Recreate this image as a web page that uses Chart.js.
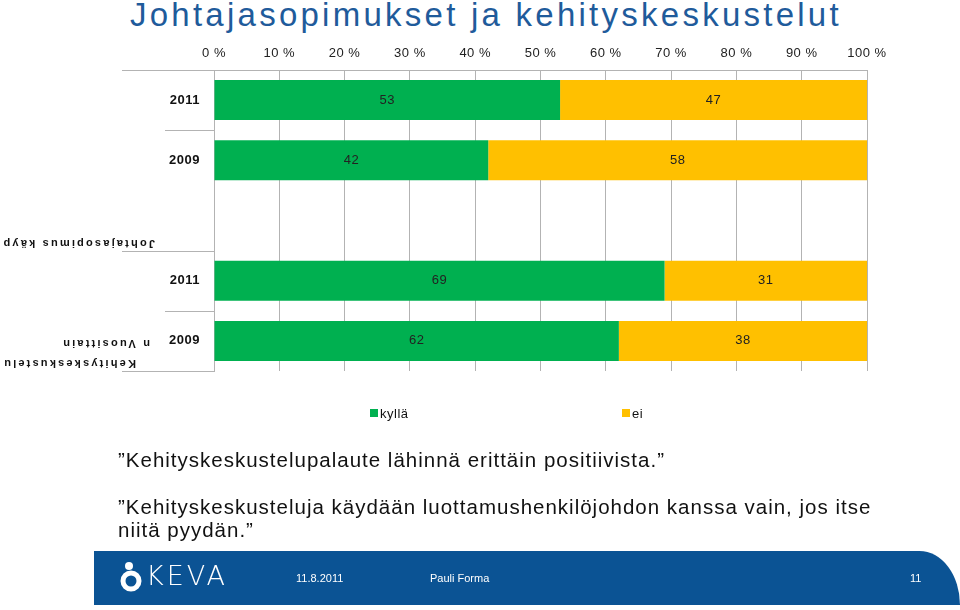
<!doctype html>
<html>

<head>
  <title>Johtajasopimukset ja kehityskeskustelut</title>
  <script src="https://cdn.jsdelivr.net/npm/chart.js@4/dist/chart.umd.min.js"></script>
  <style>
    body {
      margin: 0;
      width: 960px;
      height: 610px;
      position: relative;
      overflow: hidden;
      background: #fff;
      font-family: "Liberation Sans", Arial, sans-serif;
    }
    #canvas {
      position: absolute;
      left: 0;
      top: 0;
    }
    .title {
      position: absolute;
      left: 130px;
      top: -4px;
      font-size: 33px;
      letter-spacing: 3.25px;
      color: #1f5b9b;
      white-space: nowrap;
    }
    .quotes {
      position: absolute;
      left: 118px;
      top: 448px;
      width: 800px;
      font-size: 20.5px;
      letter-spacing: 1px;
      line-height: 23px;
      color: #111;
    }
    .quotes p {
      margin: 0 0 24px 0;
    }
    .footer {
      position: absolute;
      left: 94px;
      top: 551px;
      width: 866px;
      height: 54px;
      background: #0b5394;
      border-top-right-radius: 42px 56px;
      color: #fff;
      font-size: 11px;
    }
    .footer span {
      position: absolute;
      top: 21px;
    }
    .logo {
      position: absolute;
      left: 24px;
      top: 8px;
    }
    .keva {
      position: absolute;
      left: 52px !important;
      top: 9px !important;
      font-size: 27px;
      letter-spacing: 3px;
      font-family: "DejaVu Sans", sans-serif;
      font-weight: 200;
    }
  </style>
</head>

<body>
<div class="title">Johtajasopimukset ja kehityskeskustelut</div>
<canvas id="canvas" width="960" height="610"></canvas>
<div class="quotes">
  <p>”Kehityskeskustelupalaute lähinnä erittäin positiivista.”</p>
  <p>”Kehityskeskusteluja käydään luottamushenkilöjohdon kanssa vain, jos itse<br>niitä pyydän.”</p>
</div>
<div class="footer">
  <svg class="logo" width="30" height="40">
    <circle cx="11" cy="7" r="4" fill="#fff"></circle>
    <circle cx="13" cy="22" r="8" fill="none" stroke="#fff" stroke-width="5"></circle>
  </svg>
  <span class="keva">KEVA</span>
  <span style="left:202px">11.8.2011</span>
  <span style="left:336px">Pauli Forma</span>
  <span style="left:816px">11</span>
</div>
<script>
  var YEARS = ['2011', '2009', '', '2011', '2009'];
  var KYLLA = [53, 42, null, 69, 62];
  var EI = [47, 58, null, 31, 38];
  var X_TICKS = [0, 10, 20, 30, 40, 50, 60, 70, 80, 90, 100];
  var GROUPS = [
    { lines: ['Johtajasopimus käyp'], from: 0, to: 2 },
    { lines: ['Kehityskeskustelu', 'n Vuosittain'], from: 3, to: 4 }
  ];

  var GREEN = '#00b050';
  var YELLOW = '#ffc000';
  var GRID = '#b3b3b3';
  var FONT = '"Liberation Sans", Arial, sans-serif';

  // bar value labels, category separators, group labels and legend
  var extras = {
    id: 'extras',
    beforeDraw: function (chart) {
      chart.ctx.letterSpacing = '0.5px';
    },
    afterDatasetsDraw: function (chart) {
      var ctx = chart.ctx;
      ctx.save();
      ctx.font = '13px ' + FONT;
      ctx.fillStyle = '#222';
      ctx.textAlign = 'center';
      ctx.textBaseline = 'middle';
      chart.data.datasets.forEach(function (ds, di) {
        chart.getDatasetMeta(di).data.forEach(function (bar, i) {
          if (ds.data[i] == null) return;
          var left = Math.min(bar.x, bar.base);
          var right = Math.max(bar.x, bar.base);
          ctx.fillText(ds.data[i], (left + right) / 2, bar.y);
        });
      });
      ctx.restore();
    },
    afterDraw: function (chart) {
      var ctx = chart.ctx;
      var area = chart.chartArea;
      var band = (area.bottom - area.top) / YEARS.length;
      ctx.save();
      ctx.strokeStyle = GRID;
      ctx.lineWidth = 1;
      // separators left of the axis
      for (var i = 0; i <= YEARS.length; i++) {
        var yy = Math.round(area.top + i * band) + 0.5;
        var groupEdge = i === 0 || i === YEARS.length || GROUPS.some(function (g) { return g.from === i; });
        if (!groupEdge && GROUPS.some(function (g) { return g.to === i - 1 || (i > g.from && i <= g.to && YEARS[i] === ''); })) continue;
        ctx.beginPath();
        ctx.moveTo(groupEdge ? 122 : 165, yy);
        ctx.lineTo(area.left, yy);
        ctx.stroke();
      }
      // group labels, drawn upside down
      ctx.fillStyle = '#111';
      ctx.font = 'bold 11px ' + FONT;
      ctx.letterSpacing = '2.2px';
      ctx.textAlign = 'left';
      ctx.textBaseline = 'middle';
      GROUPS.forEach(function (g) {
        var bottom = area.top + (g.to + 1) * band;
        g.lines.forEach(function (line, li) {
          var ly = bottom - 8 - li * 20;
          ctx.save();
          ctx.translate(g.lines.length > 1 ? (li === 0 ? 136 : 150) : 155, ly);
          ctx.rotate(Math.PI);
          ctx.fillText(line, 0, 0);
          ctx.restore();
        });
      });
      // legend
      ctx.letterSpacing = '0.5px';
      ctx.font = '13px ' + FONT;
      var legendX = [370, 622];
      chart.data.datasets.forEach(function (ds, di) {
        ctx.fillStyle = ds.backgroundColor;
        ctx.fillRect(legendX[di], 409, 8, 8);
        ctx.fillStyle = '#111';
        ctx.fillText(ds.label, legendX[di] + 10, 414);
      });
      ctx.restore();
      chart.ctx.letterSpacing = '0px';
    }
  };

  window.onload = function () {
    var ctx = document.getElementById('canvas').getContext('2d');
    window.myBar = new Chart(ctx, {
      type: 'bar',
      data: {
        labels: YEARS,
        datasets: [{
          label: 'kyllä',
          data: KYLLA,
          backgroundColor: GREEN,
          barPercentage: 0.665,
          categoryPercentage: 1
        }, {
          label: 'ei',
          data: EI,
          backgroundColor: YELLOW,
          barPercentage: 0.665,
          categoryPercentage: 1
        }]
      },
      options: {
        indexAxis: 'y',
        responsive: false,
        animation: false,
        devicePixelRatio: 1,
        layout: {
          padding: { top: 40, left: 0, right: 93, bottom: 239 }
        },
        plugins: {
          legend: { display: false },
          tooltip: { enabled: false }
        },
        scales: {
          x: {
            position: 'top',
            stacked: true,
            min: 0,
            max: 100,
            afterFit: function (scale) { scale.height = 30; },
            afterBuildTicks: function (scale) {
              scale.ticks = X_TICKS.map(function (v) { return { value: v }; });
            },
            ticks: {
              padding: 9,
              color: '#222',
              font: { family: FONT, size: 13 },
              callback: function (v) { return v + ' %'; }
            },
            grid: { color: GRID, drawTicks: false },
            border: { color: GRID }
          },
          y: {
            stacked: true,
            afterFit: function (scale) { scale.width = 214; },
            ticks: {
              padding: 14,
              color: '#111',
              font: { family: FONT, size: 13, weight: 'bold' }
            },
            grid: { display: false, drawTicks: false },
            border: { color: GRID }
          }
        }
      },
      plugins: [extras]
    });
  };
</script>
</body>

</html>
